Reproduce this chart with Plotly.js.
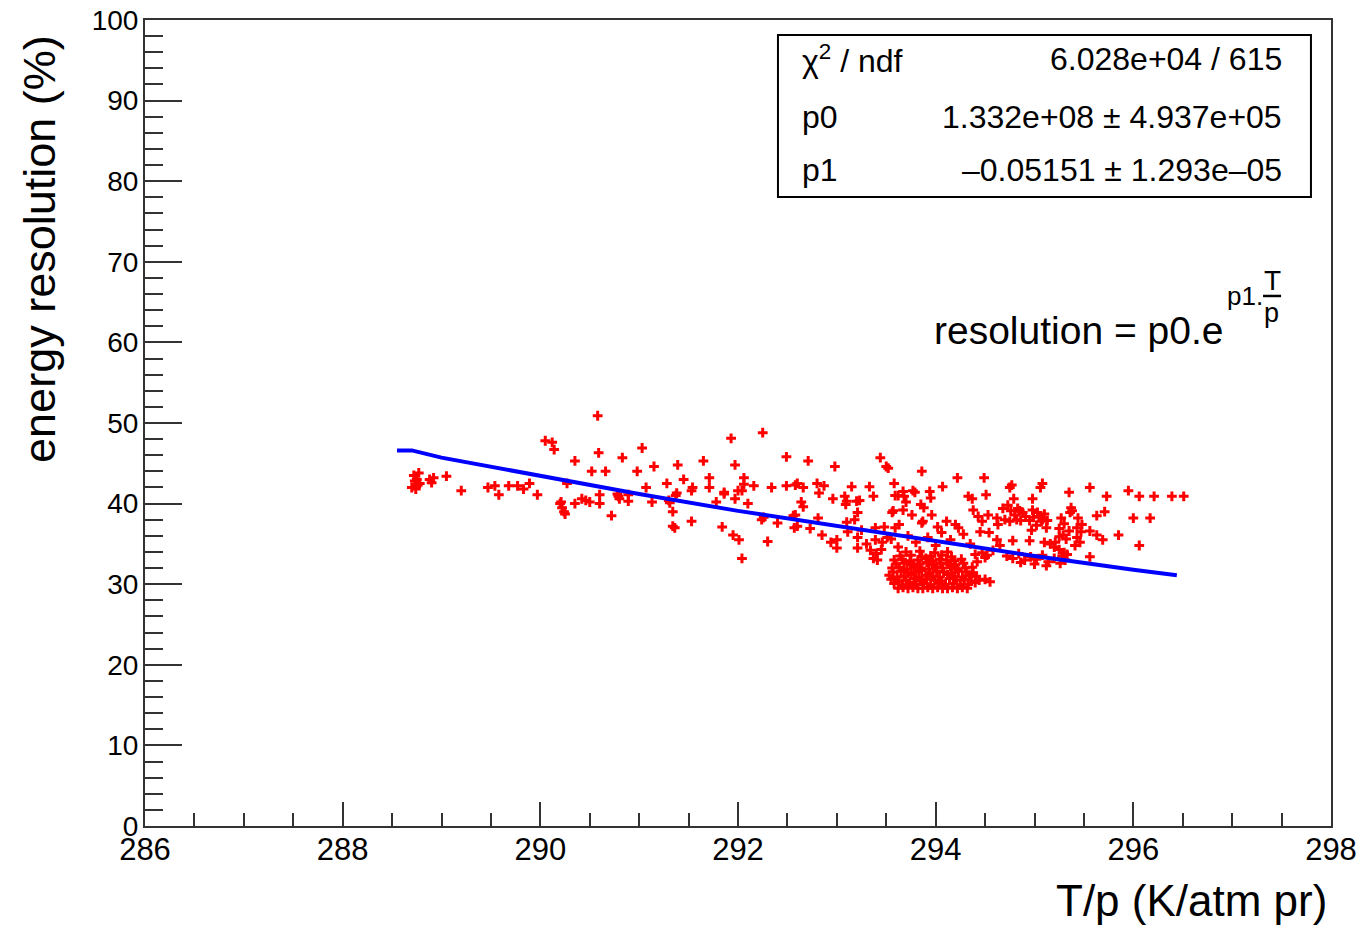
<!DOCTYPE html>
<html>
<head>
<meta charset="utf-8">
<script src="https://cdn.plot.ly/plotly-3.0.1.min.js"></script>
<style>html,body{margin:0;padding:0;background:#fff;}#chart{width:1365px;height:926px;}</style>
</head>
<body>
<div id="chart"></div>
<script>
// ---- measured points (T/p, energy resolution %) ----
const leftX = [288.70,288.72,288.74,288.75,288.77,288.78,288.73,288.76,288.88,288.90,288.92,289.05,289.20,289.47,289.54,289.58,289.68,289.77,289.83,289.89,289.97,290.05,290.12,290.14,290.35,290.52,290.58,290.20,290.22,290.24,290.25,290.21,290.35,290.42,290.46,290.50,290.27,290.59,290.60,290.60,290.66,290.72,290.78,290.80,290.79,290.83,290.89,290.89,290.98,291.03,291.07,291.13,291.15,291.28,291.30,291.31,291.34,291.34,291.36,291.39,291.38,291.37,291.45,291.53,291.54,291.53,291.65,291.71,291.71,291.78,291.84,291.86,291.86,291.93,291.97,291.95,291.97,292.00,292.04,292.01,292.06,292.06,292.10,292.04,292.16,292.24,292.26,292.25,292.30,292.34,292.40,292.49,292.49,292.56,292.57,292.58];
const leftY = [42.0,43.5,41.8,43.0,43.8,42.5,42.8,42.3,43.0,42.6,43.2,43.4,41.6,42.0,42.2,41.1,42.2,42.2,41.8,42.5,41.1,47.8,47.6,46.7,45.3,44.0,50.9,40.0,39.5,39.0,38.7,40.2,40.0,40.6,40.4,40.2,42.5,46.3,41.1,40.0,44.0,38.5,41.2,40.6,40.9,45.7,41.1,40.3,44.0,46.9,42.0,40.2,44.6,42.5,40.4,40.1,39.0,37.2,37.0,44.8,41.3,41.0,43.0,41.6,42.0,37.8,45.3,43.2,42.0,40.2,37.1,41.4,41.2,48.1,44.8,36.1,40.6,41.6,41.6,35.5,43.2,42.4,40.0,33.2,42.2,38.0,38.3,48.8,35.3,42.0,37.6,45.8,42.2,38.5,37.0,42.3];

const midX = [292.71,292.60,292.66,292.64,292.66,292.58,292.60,292.73,292.80,292.82,292.87,292.81,292.85,292.94,292.98,292.96,293.00,293.00,293.08,293.10,293.09,293.15,293.10,293.11,293.18,293.21,293.20,293.23,293.21,293.21,293.33,293.37,293.34,293.37,293.40,293.41,293.39,293.39,293.44,293.50,293.52,293.46,293.48,293.51,293.56,293.57,293.58,293.59,293.62,293.67,293.68,293.70,293.59,293.63,293.67,293.77,293.79,293.76,293.86,293.85,293.88,293.94,293.95,293.87,293.86,293.96,294.02,294.07,294.06,294.11,294.22,294.20,294.23,294.33,294.37,294.38,294.43,294.47,294.49,294.51,294.45,294.53,294.54,294.40,294.42,294.47,294.50,294.52,294.50,294.55,293.25,293.30,293.45,293.55,293.62,293.72,293.80,293.92,294.00,294.15,294.28,294.35];
const midY = [45.3,42.5,42.0,40.2,39.6,38.6,37.2,36.9,42.5,41.3,42.2,38.2,36.1,35.2,44.6,40.6,35.5,34.5,40.9,40.3,39.9,42.1,37.7,36.5,38.0,34.5,40.3,40.4,38.9,35.8,42.1,40.9,34.2,33.2,33.8,33.0,37.0,35.5,45.7,44.6,44.4,35.2,37.1,35.8,38.9,39.1,42.5,41.0,41.0,41.5,40.9,40.2,37.0,37.4,39.2,41.6,41.4,38.6,44.0,39.9,39.5,41.5,40.7,37.8,37.6,38.6,37.1,42.1,36.4,37.8,43.2,37.4,37.0,40.9,40.6,39.2,38.4,37.8,43.2,41.1,36.5,38.6,36.4,33.7,32.8,33.9,33.3,33.6,30.6,30.3,36.7,35.0,34.3,35.6,34.6,36.0,35.2,35.8,34.8,35.5,36.2,35.0];

const clusterX = [293.62,293.67,293.72,293.77,293.82,293.87,293.92,293.97,294.02,294.07,294.12,294.17,294.22,294.27,294.32,
293.58,293.66,293.74,293.80,293.88,293.95,294.03,294.10,294.18,294.25,294.33,294.40,
293.55,293.63,293.70,293.78,293.85,293.91,293.99,294.06,294.14,294.21,294.29,294.36,294.44,
293.53,293.61,293.68,293.75,293.83,293.90,293.97,294.04,294.12,294.19,294.27,294.34,294.41,
293.57,293.65,293.72,293.80,293.86,293.94,294.01,294.08,294.16,294.23,294.31,294.38,
293.56,293.63,293.71,293.78,293.85,293.93,294.00,294.07,294.15,294.22,294.30,294.37,
293.60,293.68,293.76,293.84,293.91,293.98,294.05,294.13,294.20,294.28,
293.58,293.66,293.74,293.82,293.90,293.97,294.04,294.11,294.19,294.26,
293.64,293.75,293.86,293.95,294.06,294.16,
293.70,293.84,293.99,294.12];
const clusterY = [29.5,29.6,29.5,29.6,29.5,29.5,29.6,29.5,29.6,29.5,29.5,29.6,29.5,29.6,29.5,
30.1,29.9,30.2,30.0,30.1,29.9,30.2,30.0,30.1,29.9,30.0,30.2,
30.6,30.4,30.5,30.7,30.4,30.6,30.5,30.4,30.7,30.5,30.6,30.4,30.5,
31.1,30.9,31.0,31.2,30.9,31.1,31.0,30.9,31.2,31.0,30.9,31.1,31.0,
31.5,31.6,31.4,31.5,31.7,31.4,31.6,31.5,31.4,31.6,31.5,31.4,
32.0,32.1,31.9,32.2,32.0,31.9,32.1,32.0,32.2,31.9,32.0,32.1,
32.5,32.6,32.4,32.5,32.7,32.4,32.6,32.5,32.4,32.6,
33.0,33.1,32.9,33.0,33.2,32.9,33.1,33.0,32.9,33.1,
33.5,33.6,33.4,33.5,33.6,33.4,
34.0,34.1,33.9,34.0];

const rightX = [294.75,294.77,294.79,295.06,295.08,294.98,295.35,295.56,295.73,295.95,296.06,296.21,296.39,296.51,296.00,296.17,296.06,295.85,295.71,295.63,295.69,295.63,295.56,295.56,295.44,295.48,295.43,295.47,295.43,295.46,295.41,295.36,295.38,295.27,295.30,295.25,295.29,295.32,295.25,295.35,295.21,295.20,295.25,295.30,295.33,295.28,294.68,294.73,294.76,294.80,294.83,294.85,294.88,294.82,294.75,294.70,294.63,294.62,294.91,294.86,294.98,295.03,295.05,295.08,295.10,295.13,295.07,294.99,294.95,295.02,295.12,294.97,294.78,294.95,295.10,295.16,294.62,294.72,294.78,294.84,294.90,294.96,295.02,295.08,295.14,295.20,295.26,295.31,294.86,295.00,295.12,295.37,294.58,294.65];
const rightY = [42.0,42.3,40.6,42.0,42.5,40.6,41.4,42.0,40.9,41.6,40.9,40.9,40.9,40.9,38.2,38.2,34.8,36.1,39.0,38.5,35.5,36.1,36.6,33.4,38.2,37.4,37.0,36.5,35.8,35.2,34.8,38.9,39.1,38.2,37.5,36.9,36.1,35.6,35.9,36.6,35.2,34.6,34.3,33.9,33.7,33.5,39.4,39.8,39.1,38.6,39.4,39.1,38.9,38.0,37.8,38.0,37.4,38.2,38.4,37.9,39.2,38.9,38.4,38.0,38.7,37.9,37.8,38.3,37.9,37.3,37.0,36.7,35.4,35.4,35.2,35.0,35.5,33.5,33.2,33.8,33.0,33.4,33.1,33.6,32.8,33.2,32.6,33.0,32.7,32.5,32.3,39.5,34.2,34.8];

// ---- fit curve ----
const fitX = [288.55, 288.70, 289.0, 290.0, 291.0, 292.0, 293.0, 294.0, 295.0, 296.0, 296.44];
const fitY = [46.6, 46.6, 45.7, 43.4, 41.2, 39.1, 37.2, 35.3, 33.5, 31.8, 31.1];

// ---- texts ----
const xTitle = "T/p (K/atm pr)";
const yTitle = "energy resolution (%)";
const statLabels = ["χ<sup>2</sup> / ndf", "p0", "p1"];
const statValues = ["6.028e+04 / 615", "1.332e+08 ± 4.937e+05", "–0.05151 ± 1.293e–05"];

const allX = leftX.concat(midX, clusterX, rightX);
const allY = leftY.concat(midY, clusterY, rightY);

const FONT = "Liberation Sans, Arial, Helvetica, sans-serif";

const traces = [
  {x: allX, y: allY, type: 'scatter', mode: 'markers',
   marker: {symbol: 'cross-thin-open', size: 7, color: '#ff0000', line: {color: '#ff0000', width: 3}},
   hoverinfo: 'x+y', showlegend: false},
  {x: fitX, y: fitY, type: 'scatter', mode: 'lines',
   line: {color: '#0000ff', width: 4, shape: 'linear'}, showlegend: false}
];

const axisCommon = {
  showgrid: false, zeroline: false, showline: true, mirror: true,
  linecolor: '#333', linewidth: 2, ticks: 'inside', tickcolor: '#333', tickwidth: 2,
  tickfont: {family: FONT, color: '#000'}
};

// y positions of stats rows (paper)
const rowY = [0.951, 0.880, 0.814];
const annotations = [];
for (let i = 0; i < statLabels.length; i++) {
  annotations.push({xref: 'paper', yref: 'paper', x: 0.552, y: rowY[i], xanchor: 'left', yanchor: 'middle',
    text: statLabels[i], showarrow: false, font: {family: FONT, size: 32, color: '#000'}});
  annotations.push({xref: 'paper', yref: 'paper', x: 0.960, y: rowY[i], xanchor: 'right', yanchor: 'middle',
    text: statValues[i], showarrow: false, font: {family: FONT, size: 32, color: '#000'}});
}
annotations.push({xref: 'paper', yref: 'paper', x: 0.9106, y: 0.615, xanchor: 'right', yanchor: 'middle',
  text: "resolution = p0.e", showarrow: false, font: {family: FONT, size: 39, color: '#000'}});
annotations.push({xref: 'paper', yref: 'paper', x: 0.9110, y: 0.657, xanchor: 'left', yanchor: 'middle',
  text: "p1.", showarrow: false, font: {family: FONT, size: 26, color: '#000'}});
annotations.push({xref: 'paper', yref: 'paper', x: 0.9503, y: 0.677, xanchor: 'center', yanchor: 'middle',
  text: "T", showarrow: false, font: {family: FONT, size: 28, color: '#000'}});
annotations.push({xref: 'paper', yref: 'paper', x: 0.9495, y: 0.636, xanchor: 'center', yanchor: 'middle',
  text: "p", showarrow: false, font: {family: FONT, size: 27, color: '#000'}});
// axis titles
annotations.push({xref: 'paper', yref: 'paper', x: 0.9985, y: -0.092, xanchor: 'right', yanchor: 'middle',
  text: xTitle, showarrow: false, font: {family: FONT, size: 44, color: '#000'}});
annotations.push({xref: 'paper', yref: 'paper', x: -0.0885, y: 0.984, xanchor: 'center', yanchor: 'top',
  text: yTitle, textangle: -90, showarrow: false, font: {family: FONT, size: 45, color: '#000'}});

const layout = {
  width: 1365, height: 926,
  margin: {l: 145, r: 34, t: 20, b: 100},
  paper_bgcolor: '#fff', plot_bgcolor: '#fff',
  xaxis: Object.assign({}, axisCommon, {
    range: [286, 298], tick0: 286, dtick: 2, ticklen: 24,
    tickfont: {family: FONT, size: 31, color: '#000'}, ticklabelstandoff: -5,
    minor: {dtick: 0.5, ticks: 'inside', ticklen: 13, tickwidth: 2, tickcolor: '#333', showgrid: false}
  }),
  yaxis: Object.assign({}, axisCommon, {
    range: [0, 100], tick0: 0, dtick: 10, ticklen: 37,
    tickfont: {family: FONT, size: 28, color: '#000'}, ticklabelstandoff: -1,
    minor: {dtick: 2, ticks: 'inside', ticklen: 18, tickwidth: 2, tickcolor: '#333', showgrid: false}
  }),
  shapes: [
    {type: 'rect', xref: 'paper', yref: 'paper', x0: 0.5337, x1: 0.9831, y0: 0.7804, y1: 0.9814,
     line: {color: '#000', width: 2}, fillcolor: '#fff', layer: 'above'},
    {type: 'line', xref: 'paper', yref: 'paper', x0: 0.9427, x1: 0.9579, y0: 0.6576, y1: 0.6576,
     line: {color: '#000', width: 2.5}}
  ],
  annotations: annotations,
  showlegend: false
};

Plotly.newPlot('chart', traces, layout, {displayModeBar: false, staticPlot: true});
</script>
</body>
</html>
